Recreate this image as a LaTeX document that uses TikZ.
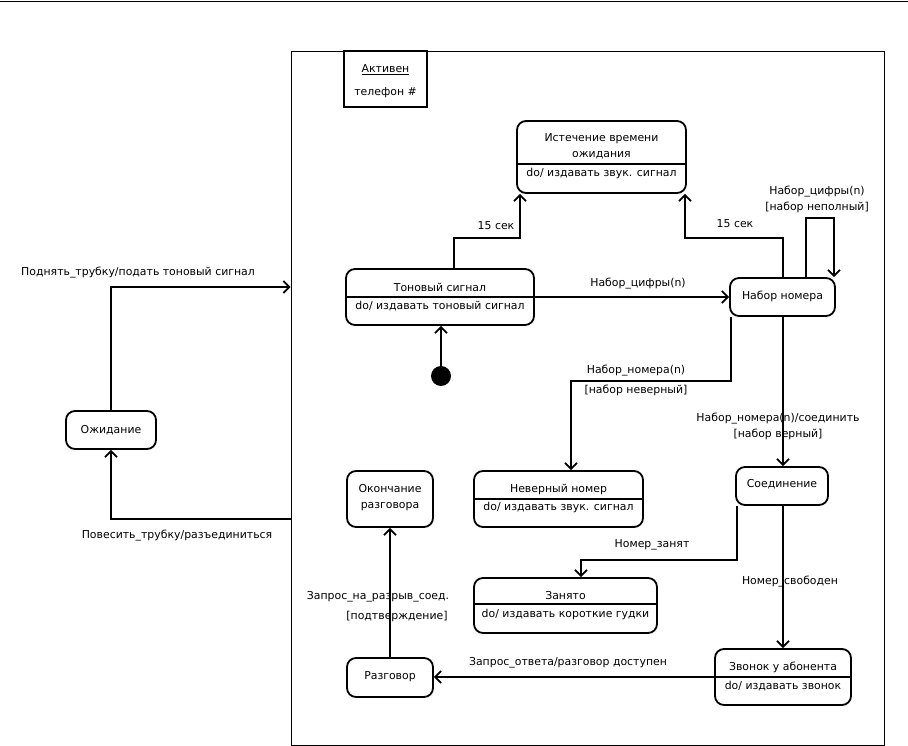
\documentclass[tikz,border=0pt]{standalone}
\usepackage{fontspec}
\setmainfont{DejaVu Sans}
\usetikzlibrary{arrows.meta}
\begin{document}
\begin{tikzpicture}[x=1pt,y=-1pt,
  font=\fontsize{10.9}{12}\selectfont,
  state/.style={draw, line width=1.8pt, rounded corners=9pt, inner sep=0pt},
  txt/.style={inner sep=0pt, anchor=center},
  arr/.style={line width=1.8pt, -{Straight Barb[length=6pt,width=12pt]}},
  divline/.style={line width=1.8pt}]
\useasboundingbox (0,0) rectangle (908,746);
\draw[line width=0.8pt] (0,1) -- (908,1);
% frame
\node[draw, line width=0.8pt, minimum width=593pt, minimum height=694pt, inner sep=0pt] (active) at (587.5,398) {};
\node[draw, line width=1.8pt, minimum width=83pt, minimum height=56pt, inner sep=0pt] (title) at (385.5,79) {};
\node[txt] (t1) at (385.5,70) {\underline{Активен}};
\node[txt] (t2) at (385.5,93) {телефон \#};
% states
\node[state, minimum width=169pt, minimum height=72pt] (expire) at (601.5,157) {};
\draw[divline] (expire.west |- 0,164) -- (expire.east |- 0,164);
\node[txt] (e1) at (601.5,139) {Истечение времени};
\node[txt] (e2) at (601.5,155) {ожидания};
\node[txt] (e3) at (601.5,173) {do/ издавать звук. сигнал};

\node[state, minimum width=188pt, minimum height=56pt] (tone) at (440,297) {};
\draw[divline] (tone.west |- 0,297) -- (tone.east |- 0,297);
\node[txt] (to1) at (440,287) {Тоновый сигнал};
\node[txt] (to2) at (440,306) {do/ издавать тоновый сигнал};

\node[circle, fill, minimum size=20pt, inner sep=0pt] (init) at (441,376) {};

\node[state, minimum width=105pt, minimum height=38pt] (dial) at (782.5,297) {};
\node[txt] (d1) at (782.5,296) {Набор номера};

\node[state, minimum width=169pt, minimum height=56pt] (wrong) at (558.5,499) {};
\draw[divline] (wrong.west |- 0,499) -- (wrong.east |- 0,499);
\node[txt] (w1) at (558.5,489) {Неверный номер};
\node[txt] (w2) at (558.5,507) {do/ издавать звук. сигнал};

\node[state, minimum width=92pt, minimum height=38pt] (conn) at (782,486) {};
\node[txt] (c1) at (782,484) {Соединение};

\node[state, minimum width=183pt, minimum height=55pt] (busy) at (565.5,605.5) {};
\draw[divline] (busy.west |- 0,604) -- (busy.east |- 0,604);
\node[txt] (b1) at (565.5,596) {Занято};
\node[txt] (b2) at (565.5,614) {do/ издавать короткие гудки};

\node[state, minimum width=136pt, minimum height=56pt] (ring) at (783,677) {};
\draw[divline] (ring.west |- 0,677) -- (ring.east |- 0,677);
\node[txt] (r1) at (783,667) {Звонок у абонента};
\node[txt] (r2) at (783,686) {do/ издавать звонок};

\node[state, minimum width=86pt, minimum height=39pt] (talk) at (390,677.5) {};
\node[txt] (ta1) at (390,677) {Разговор};

\node[state, minimum width=86pt, minimum height=56pt] (end) at (390,499) {};
\node[txt] (en1) at (390,489) {Окончание};
\node[txt] (en2) at (390,507) {разговора};

\node[state, minimum width=90pt, minimum height=38pt] (idle) at (111,430) {};
\node[txt] (i1) at (111,430) {Ожидание};

% connectors
\draw[arr] (init.north) -- (init.north |- tone.south);
\draw[arr] (454,0 |- tone.north) -- (454,238) -- (520,238) -- (520,0 |- expire.south);
\draw[arr] (783,0 |- dial.north) -- (783,238) -- (685,238) -- (685,0 |- expire.south);
\draw[arr] (tone.east) -- (dial.west);
\draw[arr] (806,0 |- dial.north) -- (806,218) -- (834,218) -- (834,0 |- dial.north);
\draw[arr] (731,0 |- dial.south) -- (731,381) -- (571,381) -- (571,0 |- wrong.north);
\draw[arr] (783,0 |- dial.south) -- (783,0 |- conn.north);
\draw[arr] (737,0 |- conn.south) -- (737,560) -- (581,560) -- (581,0 |- busy.north);
\draw[arr] (783,0 |- conn.south) -- (783,0 |- ring.north);
\draw[arr] (ring.west |- 0,677) -- (talk.east |- 0,677);
\draw[arr] (talk.north) -- (end.south);
\draw[arr] (idle.north) |- (active.west |- 0,287);
\draw[arr] (active.west |- 0,519) -| (idle.south);

% labels
\node[txt] (l1) at (496,226) {15 сек};
\node[txt] (l2) at (735,224) {15 сек};
\node[txt] (l3) at (638,284) {Набор\_цифры(n)};
\node[txt] (l4) at (817,192) {Набор\_цифры(n)};
\node[txt] (l5) at (817,207) {[набор неполный]};
\node[txt] (l6) at (636,371) {Набор\_номера(n)};
\node[txt] (l7) at (636,390) {[набор неверный]};
\node[txt] (l8) at (778,419) {Набор\_номера(n)/соединить};
\node[txt] (l9) at (778,434) {[набор верный]};
\node[txt] (l10) at (652,545) {Номер\_занят};
\node[txt] (l11) at (790,582) {Номер\_свободен};
\node[txt] (l12) at (568,663) {Запрос\_ответа/разговор доступен};
\node[txt] (l13) at (378,597) {Запрос\_на\_разрыв\_соед.};
\node[txt] (l14) at (397,616) {[подтверждение]};
\node[txt] (l15) at (138,273) {Поднять\_трубку/подать тоновый сигнал};
\node[txt] (l16) at (177,536) {Повесить\_трубку/разъединиться};
\end{tikzpicture}
\end{document}
